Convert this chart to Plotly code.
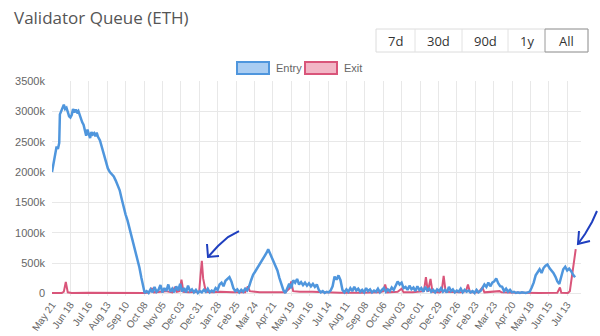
import plotly.graph_objects as go

# ---------------- data (values in thousands of ETH) ----------------
entry_dates = [
    "2023-05-21", "2023-05-24", "2023-05-26", "2023-05-28", "2023-05-30", "2023-06-01", "2023-06-02",
    "2023-06-04", "2023-06-06", "2023-06-08", "2023-06-10", "2023-06-12", "2023-06-14", "2023-06-16",
    "2023-06-18", "2023-06-20", "2023-06-22", "2023-06-24", "2023-06-26", "2023-06-28", "2023-06-30",
    "2023-07-02", "2023-07-04", "2023-07-06", "2023-07-08", "2023-07-10", "2023-07-12", "2023-07-14",
    "2023-07-16", "2023-07-18", "2023-07-20", "2023-07-22", "2023-07-24", "2023-07-26", "2023-07-28",
    "2023-07-30", "2023-08-02", "2023-08-05", "2023-08-08", "2023-08-11", "2023-08-14", "2023-08-17",
    "2023-08-20", "2023-08-23", "2023-08-26", "2023-08-29", "2023-09-01", "2023-09-04", "2023-09-07",
    "2023-09-10", "2023-09-13", "2023-09-16", "2023-09-19", "2023-09-22", "2023-09-25", "2023-09-28",
    "2023-10-01", "2023-10-04", "2023-10-07", "2023-10-09",
    "2023-10-12", "2023-10-15", "2023-10-18", "2023-10-21", "2023-10-24", "2023-10-27", "2023-10-30",
    "2023-11-02", "2023-11-05", "2023-11-08", "2023-11-11", "2023-11-14", "2023-11-17", "2023-11-20",
    "2023-11-23", "2023-11-26", "2023-11-29", "2023-12-02", "2023-12-05", "2023-12-08", "2023-12-11",
    "2023-12-14", "2023-12-17", "2023-12-20", "2023-12-23", "2023-12-26", "2023-12-29",
    "2024-01-01", "2024-01-04", "2024-01-07", "2024-01-10", "2024-01-13", "2024-01-16", "2024-01-19",
    "2024-01-22", "2024-01-25", "2024-01-28", "2024-01-31", "2024-02-03", "2024-02-06", "2024-02-09",
    "2024-02-12", "2024-02-15", "2024-02-18", "2024-02-21", "2024-02-24", "2024-02-27", "2024-03-01",
    "2024-03-04", "2024-03-07", "2024-03-10", "2024-03-13", "2024-03-16", "2024-03-19", "2024-03-22",
    "2024-03-25", "2024-03-28", "2024-03-31", "2024-04-03", "2024-04-06", "2024-04-09", "2024-04-12",
    "2024-04-14", "2024-04-16", "2024-04-19", "2024-04-22", "2024-04-25", "2024-04-28", "2024-05-01",
    "2024-05-04", "2024-05-07", "2024-05-10", "2024-05-13", "2024-05-16", "2024-05-19", "2024-05-22",
    "2024-05-25", "2024-05-28", "2024-05-31", "2024-06-03", "2024-06-06", "2024-06-09", "2024-06-12",
    "2024-06-15", "2024-06-18", "2024-06-21", "2024-06-24", "2024-06-27", "2024-06-30", "2024-07-03",
    "2024-07-06", "2024-07-09", "2024-07-12", "2024-07-15", "2024-07-18", "2024-07-21", "2024-07-24",
    "2024-07-27", "2024-07-30", "2024-08-02", "2024-08-05", "2024-08-08", "2024-08-11", "2024-08-14",
    "2024-08-17", "2024-08-20", "2024-08-23", "2024-08-26", "2024-08-29", "2024-09-01", "2024-09-04",
    "2024-09-07", "2024-09-10", "2024-09-13", "2024-09-16", "2024-09-19", "2024-09-22", "2024-09-25",
    "2024-09-28", "2024-10-01", "2024-10-04", "2024-10-07", "2024-10-10", "2024-10-13", "2024-10-16",
    "2024-10-19", "2024-10-22", "2024-10-25", "2024-10-28", "2024-10-31", "2024-11-03", "2024-11-06",
    "2024-11-09", "2024-11-12", "2024-11-15", "2024-11-18", "2024-11-21", "2024-11-24", "2024-11-27",
    "2024-11-30", "2024-12-03", "2024-12-06", "2024-12-09", "2024-12-12", "2024-12-15", "2024-12-18",
    "2024-12-21", "2024-12-24", "2024-12-27", "2024-12-30",
    "2025-01-02", "2025-01-05", "2025-01-08", "2025-01-11", "2025-01-14", "2025-01-17", "2025-01-20",
    "2025-01-23", "2025-01-26", "2025-01-29", "2025-02-01", "2025-02-04", "2025-02-07", "2025-02-10",
    "2025-02-13", "2025-02-16", "2025-02-19", "2025-02-22", "2025-02-25", "2025-02-28", "2025-03-03",
    "2025-03-06", "2025-03-09", "2025-03-12", "2025-03-15", "2025-03-18", "2025-03-21", "2025-03-24",
    "2025-03-27", "2025-03-30", "2025-04-02", "2025-04-05", "2025-04-08", "2025-04-11", "2025-04-14",
    "2025-04-17", "2025-04-20", "2025-04-23", "2025-04-26", "2025-04-29", "2025-05-02", "2025-05-05",
    "2025-05-08", "2025-05-11", "2025-05-14", "2025-05-17", "2025-05-20", "2025-05-23", "2025-05-26",
    "2025-05-29", "2025-06-01", "2025-06-04", "2025-06-07", "2025-06-10", "2025-06-13", "2025-06-16",
    "2025-06-19", "2025-06-22", "2025-06-25", "2025-06-28", "2025-07-01", "2025-07-04", "2025-07-07",
    "2025-07-10", "2025-07-13", "2025-07-16", "2025-07-19", "2025-07-22", "2025-07-25", "2025-07-27",
]
entry_values = [
    2000, 2180, 2300, 2420, 2380, 2480, 2950,
    3000, 3060, 3110, 3040, 3060, 2990, 2920,
    2900, 2940, 3040, 2980, 3030, 2990, 3010,
    2940, 2880, 2820, 2780, 2680, 2600, 2700,
    2620, 2560, 2660, 2620, 2640, 2590, 2650,
    2580, 2520, 2400, 2260, 2160, 2060, 2000,
    1960, 1930, 1860, 1770, 1700, 1560, 1420,
    1300, 1200, 1070, 940, 830, 720, 600,
    430, 260, 90, 10,
    40, 10, 70, 20, 110, 30, 60,
    140, 20, 90, 40, 150, 30, 80,
    20, 120, 50, 160, 30, 90, 20,
    130, 40, 70, 20, 60, 10,
    40, 20, 60, 30, 80, 20, 50,
    30, 90, 60, 150, 180, 120, 210,
    240, 270, 200, 90, 40, 70, 20,
    60, 30, 80, 50, 120, 220, 310,
    360, 410, 470, 530, 570, 620, 680,
    730, 680, 620, 540, 470, 380, 260,
    150, 60, 10, 80, 160, 90, 220,
    180, 240, 150, 190, 140, 180, 130,
    170, 120, 160, 110, 150, 60, 20,
    40, 10, 30, 20, 50, 120, 280,
    230, 300, 220, 60, 20, 70, 30,
    90, 40, 110, 50, 80, 30, 60,
    20, 90, 40, 70, 20, 50, 30,
    80, 20, 60, 90, 30, 70, 40,
    100, 60, 130, 200, 150, 180, 90,
    110, 60, 130, 70, 100, 40, 120,
    60, 90, 30, 110, 50, 80, 30,
    60, 20, 70, 40,
    90, 30, 60, 20, 110, 40, 70,
    20, 50, 30, 80, 20, 60, 30,
    50, 20, 40, 10, 60, 20, 40,
    90, 150, 110, 180, 120, 180, 200,
    250, 170, 120, 110, 40, 80, 30,
    60, 20, 30, 10, 20, 10, 20,
    10, 10, 20, 30, 100, 180, 300,
    360, 400, 340, 420, 460, 480, 420,
    380, 340, 280, 200, 160, 300, 400,
    440, 380, 410, 370, 310, 270,
]

exit_dates = [
    "2023-05-21", "2023-06-05", "2023-06-08", "2023-06-11", "2023-06-14", "2023-06-20", "2023-07-15",
    "2023-08-15", "2023-09-15", "2023-10-10", "2023-10-16", "2023-10-20", "2023-10-23", "2023-11-01",
    "2023-11-10", "2023-11-20", "2023-11-24", "2023-11-27", "2023-12-01", "2023-12-04", "2023-12-07",
    "2023-12-15", "2023-12-25", "2023-12-31",
    "2024-01-02", "2024-01-04", "2024-01-06", "2024-01-08", "2024-01-10", "2024-01-20", "2024-02-01",
    "2024-02-20", "2024-03-10", "2024-03-14", "2024-03-17", "2024-03-25", "2024-04-01", "2024-04-20",
    "2024-05-10", "2024-05-16", "2024-05-19", "2024-05-22", "2024-06-01", "2024-06-20", "2024-07-10",
    "2024-08-01", "2024-09-01", "2024-10-01", "2024-10-06", "2024-10-09", "2024-10-12", "2024-10-28",
    "2024-11-03", "2024-11-06", "2024-11-20", "2024-12-07", "2024-12-10", "2024-12-13", "2024-12-17",
    "2024-12-20", "2024-12-31",
    "2025-01-03", "2025-01-06", "2025-01-09", "2025-02-01", "2025-02-09", "2025-02-12", "2025-02-15",
    "2025-02-28", "2025-03-06", "2025-03-09", "2025-04-01", "2025-04-04", "2025-05-01", "2025-06-01",
    "2025-06-28", "2025-07-02", "2025-07-04", "2025-07-14", "2025-07-17", "2025-07-20", "2025-07-23",
    "2025-07-26",
]
exit_values = [
    10, 10, 30, 190, 20, 10, 15,
    10, 15, 10, 20, 90, 20, 30,
    40, 20, 110, 30, 40, 230, 30,
    20, 30, 30,
    300, 540, 250, 130, 30, 20, 30,
    20, 20, 120, 40, 30, 20, 20,
    20, 80, 200, 40, 30, 30, 20,
    15, 15, 20, 40, 150, 20, 30,
    80, 20, 20, 40, 270, 30, 240,
    30, 20,
    40, 290, 30, 20, 40, 150, 20,
    20, 100, 20, 40, 20, 10, 10,
    15, 100, 15, 10, 40, 260, 480,
    730,
]

y_tick_vals = [0, 500, 1000, 1500, 2000, 2500, 3000, 3500]
y_tick_text = ["0", "500k", "1000k", "1500k", "2000k", "2500k", "3000k", "3500k"]
range_buttons = ["7d", "30d", "90d", "1y", "All"]

# ---------------- layout helpers ----------------
W, H = 600, 336
L, R, T, B = 52, 19, 81, 40
PW, PH = W - L - R, H - T - B


def px(x):
    return (x - L) / PW


def py(y):
    return (H - B - y) / PH


BLUE = "#4f96dd"
RED = "#d9557a"
GRID = "#e8e8e8"

fig = go.Figure()
fig.add_trace(go.Scatter(x=exit_dates, y=exit_values, mode="lines",
                         line=dict(color=RED, width=2), name="Exit", hoverinfo="skip"))
fig.add_trace(go.Scatter(x=entry_dates, y=entry_values, mode="lines",
                         line=dict(color=BLUE, width=2.5), name="Entry", hoverinfo="skip"))

shapes = []
annotations = []

# title
annotations.append(dict(text="Validator Queue (ETH)", xref="paper", yref="paper",
                        x=px(12), y=py(17), xanchor="left", yanchor="middle", showarrow=False,
                        font=dict(family="Open Sans", size=17, color="#555555")))

# range buttons
btn_edges = [376, 415, 462, 508, 545, 588]
for i, lab in enumerate(range_buttons):
    x0, x1 = btn_edges[i], btn_edges[i + 1]
    annotations.append(dict(text=lab, xref="paper", yref="paper", x=px((x0 + x1) / 2), y=py(40.5),
                            xanchor="center", yanchor="middle", showarrow=False,
                            font=dict(family="Open Sans", size=13, color="#333333")))
shapes.append(dict(type="rect", xref="paper", yref="paper", x0=px(376), x1=px(588), y0=py(52), y1=py(29),
                   line=dict(color="#dcdcdc", width=1), fillcolor="rgba(0,0,0,0)", layer="above"))
for xe in btn_edges[1:-2]:
    shapes.append(dict(type="line", xref="paper", yref="paper", x0=px(xe), x1=px(xe), y0=py(52), y1=py(29),
                       line=dict(color="#e2e2e2", width=1)))
shapes.append(dict(type="rect", xref="paper", yref="paper", x0=px(545), x1=px(588), y0=py(52), y1=py(29),
                   line=dict(color="#9a9a9a", width=1), fillcolor="rgba(0,0,0,0)"))

# legend
shapes.append(dict(type="rect", xref="paper", yref="paper", x0=px(237), x1=px(269), y0=py(74), y1=py(62),
                   line=dict(color=BLUE, width=2), fillcolor="#aacdf2"))
annotations.append(dict(text="Entry", xref="paper", yref="paper", x=px(274), y=py(68), xanchor="left",
                        yanchor="middle", showarrow=False,
                        font=dict(family="Liberation Sans", size=11, color="#666666")))
shapes.append(dict(type="rect", xref="paper", yref="paper", x0=px(305), x1=px(337), y0=py(74), y1=py(62),
                   line=dict(color=RED, width=2), fillcolor="#f2b6c6"))
annotations.append(dict(text="Exit", xref="paper", yref="paper", x=px(342), y=py(68), xanchor="left",
                        yanchor="middle", showarrow=False,
                        font=dict(family="Liberation Sans", size=11, color="#666666")))

# hand-drawn arrows
PEN = "#1f3fbf"


def pen_path(points):
    d = "M " + " L ".join(f"{px(a):.4f},{py(b):.4f}" for a, b in points)
    return dict(type="path", xref="paper", yref="paper", path=d, line=dict(color=PEN, width=2))


shapes.append(pen_path([(239, 231), (228, 237), (218, 246), (208, 257)]))
shapes.append(pen_path([(207, 244), (208, 257), (219, 256)]))
shapes.append(pen_path([(597, 211), (592, 222), (585, 234), (578, 244)]))
shapes.append(pen_path([(579, 231), (578, 244), (590, 241)]))

fig.update_layout(
    width=W, height=H,
    margin=dict(l=L, r=R, t=T, b=B, autoexpand=False),
    paper_bgcolor="white", plot_bgcolor="white",
    showlegend=False,
    shapes=shapes, annotations=annotations,
    xaxis=dict(type="date", range=["2023-05-21", "2025-08-03"], automargin=False,
               tick0="2023-05-21", dtick=28 * 86400000, tickformat="%b %d", tickangle=-55,
               showgrid=True, gridcolor=GRID, gridwidth=1, ticks="",
               ticklabelstandoff=0,
               showline=False, zeroline=False,
               tickfont=dict(family="Liberation Sans", size=10, color="#666666")),
    yaxis=dict(range=[-40, 3500], tickvals=y_tick_vals, ticktext=y_tick_text, automargin=False,
               showgrid=True, gridcolor=GRID, gridwidth=1, zeroline=False, showline=False,
               ticks="", ticklabelstandoff=6,
               tickfont=dict(family="Liberation Sans", size=11, color="#666666")),
)

fig.write_html("out.html")
